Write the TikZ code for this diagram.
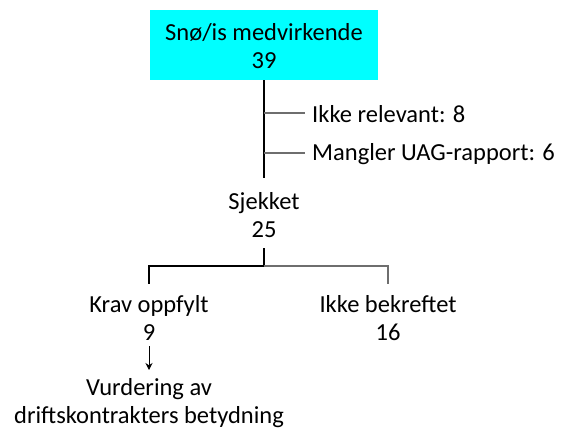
\documentclass[tikz,border=0pt]{standalone}
\usepackage{fontspec}
\setmainfont{Carlito}
\usetikzlibrary{arrows.meta}
\definecolor{cyanbox}{RGB}{0,255,255}
\definecolor{branchgray}{RGB}{110,110,110}
\begin{document}
\begin{tikzpicture}[x=1pt,y=-1pt,
  lbl/.style={inner sep=0pt,font=\fontsize{24.5}{28.5}\selectfont,align=center},
  thick line/.style={line width=1.8pt,black},
  thin line/.style={line width=1.2pt,branchgray}]
\useasboundingbox (0,0) rectangle (561,439);
\node[fill=cyanbox,minimum width=228pt,minimum height=70pt,inner sep=0pt] (top) at (264,45) {};
\node[lbl] (toptxt) at (264,46) {Snø/is medvirkende\\39};
\coordinate (b1) at (264,113);
\coordinate (b2) at (264,153);
\coordinate (vend) at (264,178);
\node[lbl,anchor=west] (irel) at (312,114) {Ikke relevant: 8};
\node[lbl,anchor=west] (mang) at (312,154) {Mangler UAG-rapport: 6};
\draw[thick line] (top.south) -- (vend);
\draw[thin line] (b1) -- ([xshift=-7pt]b1 -| irel.west);
\draw[thin line] (b2) -- ([xshift=-7pt]b2 -| mang.west);
\node[lbl] (sj) at (264,215) {Sjekket\\25};
\coordinate (sjb) at (264,248);
\coordinate (hm) at (264,266);
\coordinate (hl) at (149,266);
\coordinate (hr) at (388,266);
\node[lbl] (krav) at (149,318) {Krav oppfylt\\9};
\node[lbl] (ikb) at (388,318) {Ikke bekreftet\\16};
\draw[thick line] (sjb) -- (hm) -- (hl) -- (149,284);
\draw[thin line] (hm) -- (hr) -- (388,284);
\node[lbl] (vurd) at (149,403) {Vurdering av\\driftskontrakters betydning};
\draw[line width=1pt,-{Stealth[length=7pt,width=7pt]}] (149,346) -- (149,370);
\end{tikzpicture}
\end{document}
